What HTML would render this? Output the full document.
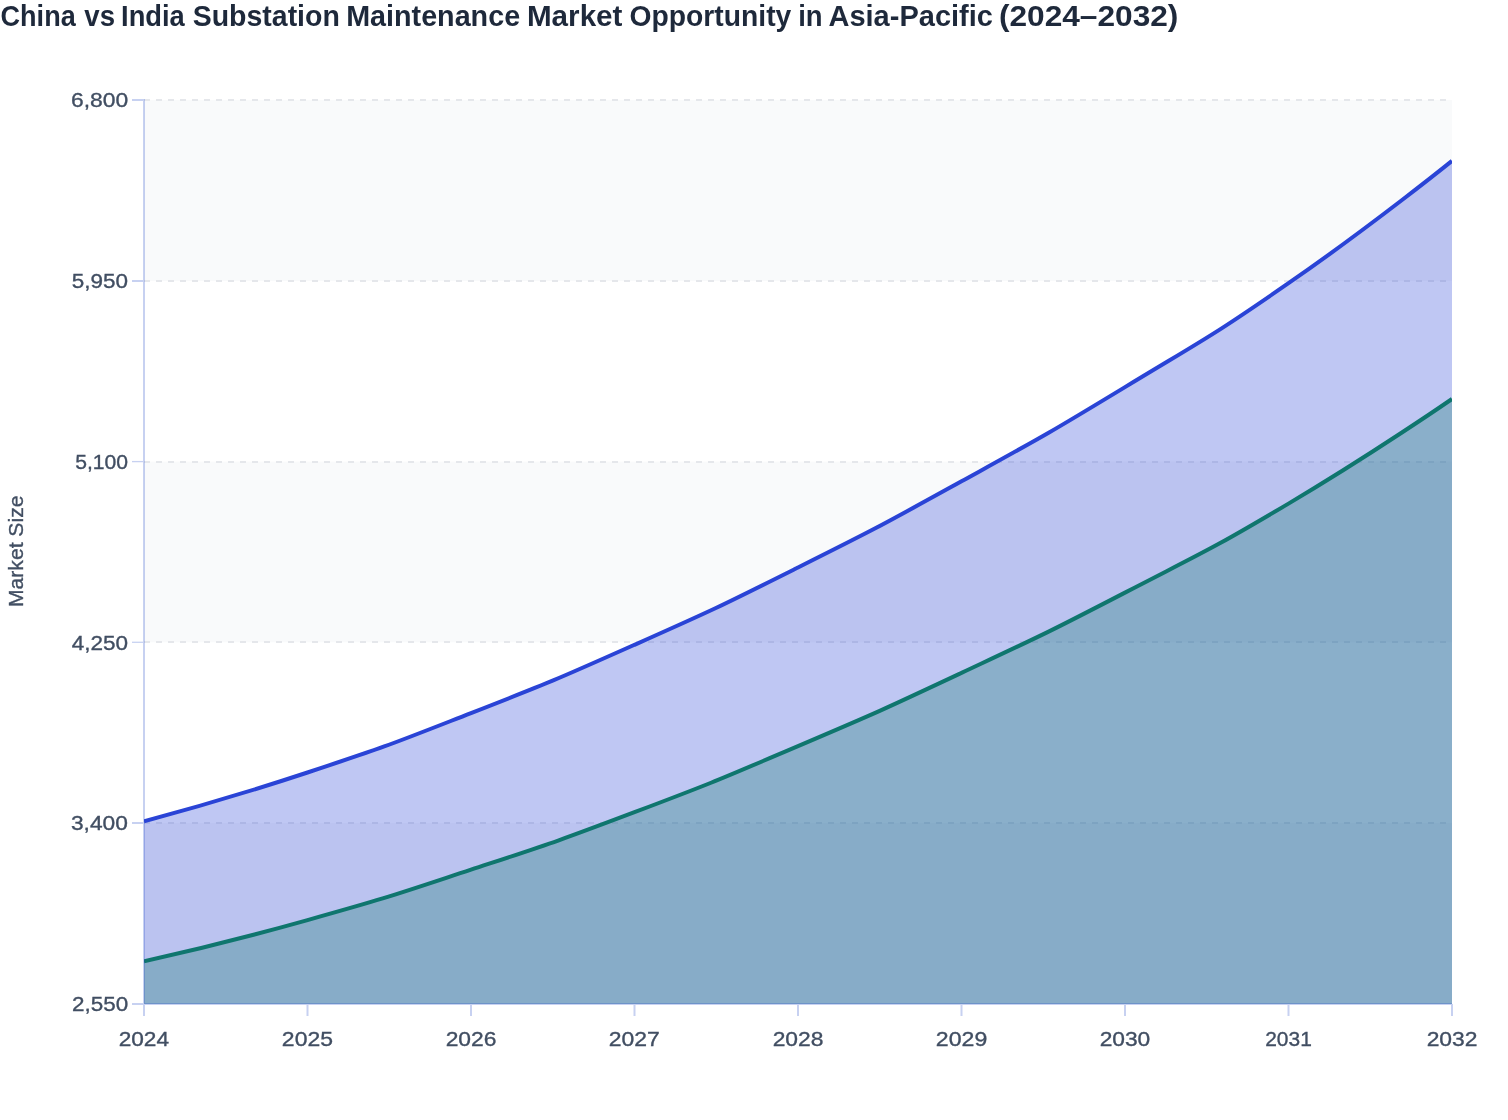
<!DOCTYPE html>
<html lang="en"><head><meta charset="utf-8"><title>China vs India Substation Maintenance Market Opportunity in Asia-Pacific (2024–2032)</title>
<style>
html,body{margin:0;padding:0;background:#fff;}
body{width:1508px;height:1120px;overflow:hidden;font-family:"Liberation Sans", Arial, sans-serif;}
svg{display:block;}
text{font-family:"Liberation Sans", Arial, sans-serif;}
.t{font-size:29px;font-weight:700;fill:#1e293b;}
.l{font-size:20.7px;fill:#414e62;stroke:#414e62;stroke-width:0.35px;}
.n{font-size:20.5px;fill:#414e62;stroke:#414e62;stroke-width:0.35px;}
</style></head><body>
<svg width="1508" height="1120" viewBox="0 0 1508 1120">
<defs><clipPath id="cp"><rect x="144" y="96" width="1308" height="908"/></clipPath></defs>
<rect width="1508" height="1120" fill="#fff"/>
<text class="t" y="26" xml:space="preserve"><tspan x="0.59" textLength="75.12" lengthAdjust="spacingAndGlyphs">China</tspan> <tspan x="84.29" textLength="30.72" lengthAdjust="spacingAndGlyphs">vs</tspan> <tspan x="121.09" textLength="63.72" lengthAdjust="spacingAndGlyphs">India</tspan> <tspan x="192.74" textLength="147.09" lengthAdjust="spacingAndGlyphs">Substation</tspan> <tspan x="346.20" textLength="173.92" lengthAdjust="spacingAndGlyphs">Maintenance</tspan> <tspan x="526.95" textLength="95.54" lengthAdjust="spacingAndGlyphs">Market</tspan> <tspan x="629.55" textLength="161.78" lengthAdjust="spacingAndGlyphs">Opportunity</tspan> <tspan x="798.13" textLength="24.43" lengthAdjust="spacingAndGlyphs">in</tspan> <tspan x="828.48" textLength="164.48" lengthAdjust="spacingAndGlyphs">Asia-Pacific</tspan> <tspan x="998.92" textLength="179.51" lengthAdjust="spacingAndGlyphs">(2024–2032)</tspan></text>

<rect x="144" y="100.00" width="1308" height="181.00" fill="#f9fafb"/>
<rect x="144" y="461.60" width="1308" height="180.70" fill="#f9fafb"/>
<rect x="144" y="823.00" width="1308" height="181.00" fill="#f9fafb"/>
<line x1="144" y1="100" x2="1452" y2="100" stroke="#e5e7eb" stroke-width="2" stroke-dasharray="6 6"/>
<line x1="144" y1="281" x2="1452" y2="281" stroke="#e5e7eb" stroke-width="2" stroke-dasharray="6 6"/>
<line x1="144" y1="462" x2="1452" y2="462" stroke="#e5e7eb" stroke-width="2" stroke-dasharray="6 6"/>
<line x1="144" y1="642" x2="1452" y2="642" stroke="#e5e7eb" stroke-width="2" stroke-dasharray="6 6"/>
<line x1="144" y1="823" x2="1452" y2="823" stroke="#e5e7eb" stroke-width="2" stroke-dasharray="6 6"/>
<g clip-path="url(#cp)">
<path d="M144.00 821.20 C144.00 821.20 226.55 799.26 307.50 772.50 C390.05 745.21 390.00 744.73 471.00 713.10 C553.50 680.88 553.59 680.83 634.50 644.80 C717.09 608.03 717.14 607.93 798.00 567.50 C880.64 526.18 880.60 525.93 961.50 481.30 C1044.10 435.73 1044.32 435.97 1125.00 387.10 C1207.82 336.92 1208.90 338.26 1288.50 283.20 C1372.40 225.16 1452.00 160.90 1452.00 160.90 L1452 1004 L144 1004 Z" fill="#2a44d6" fill-opacity="0.3"/>
<path d="M144.00 821.20 C144.00 821.20 226.55 799.26 307.50 772.50 C390.05 745.21 390.00 744.73 471.00 713.10 C553.50 680.88 553.59 680.83 634.50 644.80 C717.09 608.03 717.14 607.93 798.00 567.50 C880.64 526.18 880.60 525.93 961.50 481.30 C1044.10 435.73 1044.32 435.97 1125.00 387.10 C1207.82 336.92 1208.90 338.26 1288.50 283.20 C1372.40 225.16 1452.00 160.90 1452.00 160.90" fill="none" stroke="#2a44d6" stroke-width="4" stroke-linejoin="bevel"/>
<path d="M144.00 961.40 C144.00 961.40 226.34 942.86 307.50 920.10 C389.84 897.01 389.78 896.50 471.00 869.70 C553.28 842.55 553.46 842.83 634.50 812.20 C716.96 781.03 716.89 780.65 798.00 746.10 C880.39 711.00 880.43 710.95 961.50 672.90 C1043.93 634.20 1044.14 634.47 1125.00 592.60 C1207.64 549.82 1208.46 550.99 1288.50 503.60 C1371.96 454.19 1452.00 399.00 1452.00 399.00 L1452 1004 L144 1004 Z" fill="#0f766e" fill-opacity="0.3"/>
<path d="M144.00 961.40 C144.00 961.40 226.34 942.86 307.50 920.10 C389.84 897.01 389.78 896.50 471.00 869.70 C553.28 842.55 553.46 842.83 634.50 812.20 C716.96 781.03 716.89 780.65 798.00 746.10 C880.39 711.00 880.43 710.95 961.50 672.90 C1043.93 634.20 1044.14 634.47 1125.00 592.60 C1207.64 549.82 1208.46 550.99 1288.50 503.60 C1371.96 454.19 1452.00 399.00 1452.00 399.00" fill="none" stroke="#0f766e" stroke-width="4" stroke-linejoin="bevel"/>
</g>
<g stroke="rgba(30,70,200,0.25)" stroke-width="2" fill="none">
<line x1="144" y1="99" x2="144" y2="1005"/>
<line x1="145" y1="1004" x2="1452" y2="1004"/>
<line x1="132" y1="100" x2="143" y2="100"/>
<line x1="132" y1="281" x2="143" y2="281"/>
<line x1="132" y1="461.6" x2="143" y2="461.6" stroke-width="1.3"/>
<line x1="132" y1="642.3" x2="143" y2="642.3" stroke-width="1.3"/>
<line x1="132" y1="823" x2="143" y2="823"/>
<line x1="132" y1="1004" x2="143" y2="1004"/>
<line x1="144.0" y1="1005" x2="144.0" y2="1016"/>
<line x1="307.5" y1="1005" x2="307.5" y2="1016"/>
<line x1="471.0" y1="1005" x2="471.0" y2="1016"/>
<line x1="634.5" y1="1005" x2="634.5" y2="1016"/>
<line x1="798.0" y1="1005" x2="798.0" y2="1016"/>
<line x1="961.5" y1="1005" x2="961.5" y2="1016"/>
<line x1="1125.0" y1="1005" x2="1125.0" y2="1016"/>
<line x1="1288.5" y1="1005" x2="1288.5" y2="1016"/>
<path d="M1452 1004H1453V1016H1451V1005H1452Z" fill="rgba(30,70,200,0.25)" stroke="none"/>
</g>
<text class="l" x="71.00" y="107.4" textLength="57.19" lengthAdjust="spacingAndGlyphs">6,800</text>
<text class="l" x="71.78" y="287.9" textLength="56.22" lengthAdjust="spacingAndGlyphs">5,950</text>
<text class="l" x="75.22" y="469.0" textLength="52.87" lengthAdjust="spacingAndGlyphs">5,100</text>
<text class="l" x="71.68" y="649.9" textLength="56.34" lengthAdjust="spacingAndGlyphs">4,250</text>
<text class="l" x="70.95" y="829.9" textLength="56.91" lengthAdjust="spacingAndGlyphs">3,400</text>
<text class="l" x="72.01" y="1011.2" textLength="56.11" lengthAdjust="spacingAndGlyphs">2,550</text>
<text class="l" x="118.65" y="1046.0" textLength="50.40" lengthAdjust="spacingAndGlyphs">2024</text>
<text class="l" x="281.88" y="1046.0" textLength="51.06" lengthAdjust="spacingAndGlyphs">2025</text>
<text class="l" x="445.65" y="1046.0" textLength="50.81" lengthAdjust="spacingAndGlyphs">2026</text>
<text class="l" x="608.88" y="1046.0" textLength="51.01" lengthAdjust="spacingAndGlyphs">2027</text>
<text class="l" x="772.65" y="1046.0" textLength="50.81" lengthAdjust="spacingAndGlyphs">2028</text>
<text class="l" x="935.88" y="1046.0" textLength="51.38" lengthAdjust="spacingAndGlyphs">2029</text>
<text class="l" x="1099.65" y="1046.0" textLength="50.65" lengthAdjust="spacingAndGlyphs">2030</text>
<text class="l" x="1265.24" y="1046.0" textLength="46.57" lengthAdjust="spacingAndGlyphs">2031</text>
<text class="l" x="1426.65" y="1046.0" textLength="50.84" lengthAdjust="spacingAndGlyphs">2032</text>
<text class="n" transform="translate(23.1 551.3) rotate(-90)" text-anchor="middle" textLength="111.5" lengthAdjust="spacingAndGlyphs">Market Size</text>
</svg></body></html>
